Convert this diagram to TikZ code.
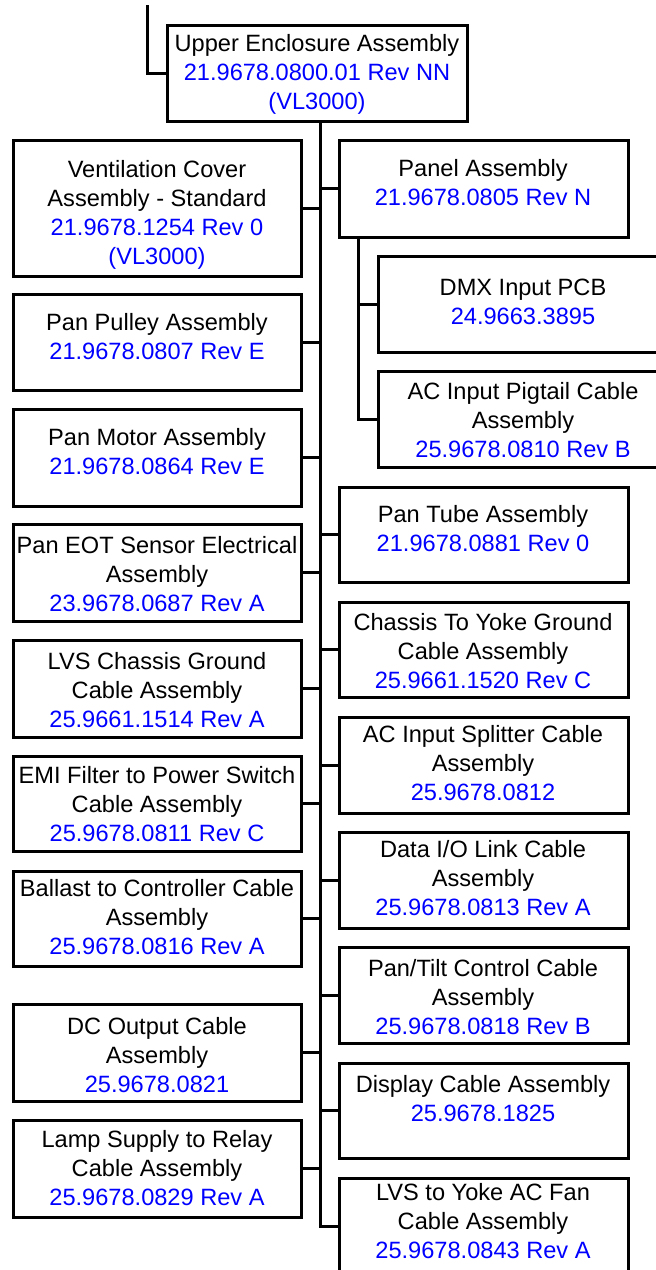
\documentclass[tikz,border=0pt]{standalone}
\usepackage{fontspec}
\setmainfont{Liberation Sans}
\definecolor{pnblue}{RGB}{0,0,255}
\newcommand\pn[1]{\textcolor{pnblue}{#1}}
\newcommand\partbox[8]{%
  \node[boxst, minimum width={#4-#2}, minimum height={#5-#3}] (#1) at ({(#2+#4)/2},{(#3+#5)/2}) {};
  \node[txt] (#1t) at (#6,{#7-8.5}) {#8};}
\begin{document}
\begin{tikzpicture}[x=1pt,y=-1pt,
  boxst/.style={draw=black, line width=3pt, inner sep=0pt, outer sep=0pt, rectangle},
  txt/.style={anchor=north, inner sep=0pt, align=center, font=\fontsize{23.6}{29}\selectfont, text=black},
  wire/.style={draw=black, line width=3pt, line join=miter}]
\useasboundingbox (0,0) rectangle (656,1270);
% top
\partbox{U}{167}{25}{467}{121}{317}{43}{Upper Enclosure Assembly\\\pn{21.9678.0800.01 Rev NN}\\\pn{(VL3000)}}
% left column
\partbox{V}{13}{140}{301}{276}{157}{169}{Ventilation Cover\\Assembly - Standard\\\pn{21.9678.1254 Rev 0}\\\pn{(VL3000)}}
\partbox{PP}{13}{294}{301}{390}{157}{322}{Pan Pulley Assembly\\\pn{21.9678.0807 Rev E}}
\partbox{PM}{13}{409}{301}{506}{157}{437}{Pan Motor Assembly\\\pn{21.9678.0864 Rev E}}
\partbox{EOT}{13}{524}{301}{621}{157}{545}{Pan EOT Sensor Electrical\\Assembly\\\pn{23.9678.0687 Rev A}}
\partbox{LVSC}{13}{640}{301}{737}{157}{661}{LVS Chassis Ground\\Cable Assembly\\\pn{25.9661.1514 Rev A}}
\partbox{EMI}{13}{756}{301}{851}{157}{775}{EMI Filter to Power Switch\\Cable Assembly\\\pn{25.9678.0811 Rev C}}
\partbox{BAL}{13}{871}{301}{966}{157}{888}{Ballast to Controller Cable\\Assembly\\\pn{25.9678.0816 Rev A}}
\partbox{DC}{13}{1004}{301}{1101}{157}{1026}{DC Output Cable\\Assembly\\\pn{25.9678.0821}}
\partbox{LAMP}{13}{1120}{301}{1217}{157}{1139}{Lamp Supply to Relay\\Cable Assembly\\\pn{25.9678.0829 Rev A}}
% right column
\partbox{PAN}{339}{140}{628}{237}{483}{168}{Panel Assembly\\\pn{21.9678.0805 Rev N}}
\partbox{TUBE}{339}{487}{628}{582}{483}{514}{Pan Tube Assembly\\\pn{21.9678.0881 Rev 0}}
\partbox{CHY}{339}{602}{628}{697}{483}{622}{Chassis To Yoke Ground\\Cable Assembly\\\pn{25.9661.1520 Rev C}}
\partbox{SPL}{339}{717}{628}{813}{483}{734}{AC Input Splitter Cable\\Assembly\\\pn{25.9678.0812}}
\partbox{DIO}{339}{832}{628}{928}{483}{849}{Data I/O Link Cable\\Assembly\\\pn{25.9678.0813 Rev A}}
\partbox{PTC}{339}{947}{628}{1043}{483}{968}{Pan/Tilt Control Cable\\Assembly\\\pn{25.9678.0818 Rev B}}
\partbox{DISP}{339}{1063}{628}{1158}{483}{1084}{Display Cable Assembly\\\pn{25.9678.1825}}
\partbox{LVSY}{339}{1178}{628}{1274}{483}{1192}{LVS to Yoke AC Fan\\Cable Assembly\\\pn{25.9678.0843 Rev A}}
% sub column under panel
\partbox{DMX}{378}{256}{668}{352}{523}{287}{DMX Input PCB\\\pn{24.9663.3895}}
\partbox{PIG}{378}{371}{668}{467}{523}{391}{AC Input Pigtail Cable\\Assembly\\\pn{25.9678.0810 Rev B}}
% connectors
\coordinate (top) at (147,5);
\coordinate (tx) at (320,0);
\coordinate (sx) at (358,0);
\draw[wire] (top) |- (U.west);
\draw[wire] (U.south -| tx) |- (LVSY.west);
\foreach \n in {V,PP,PM,EOT,LVSC,EMI,BAL,DC,LAMP}
  \draw[wire] (\n.east) -- (\n.east -| tx);
\foreach \n in {PAN,TUBE,CHY,SPL,DIO,PTC,DISP}
  \draw[wire] (\n.west) -- (\n.west -| tx);
\draw[wire] (PAN.south -| sx) |- (PIG.west);
\draw[wire] (DMX.west) -- (DMX.west -| sx);
\end{tikzpicture}
\end{document}
